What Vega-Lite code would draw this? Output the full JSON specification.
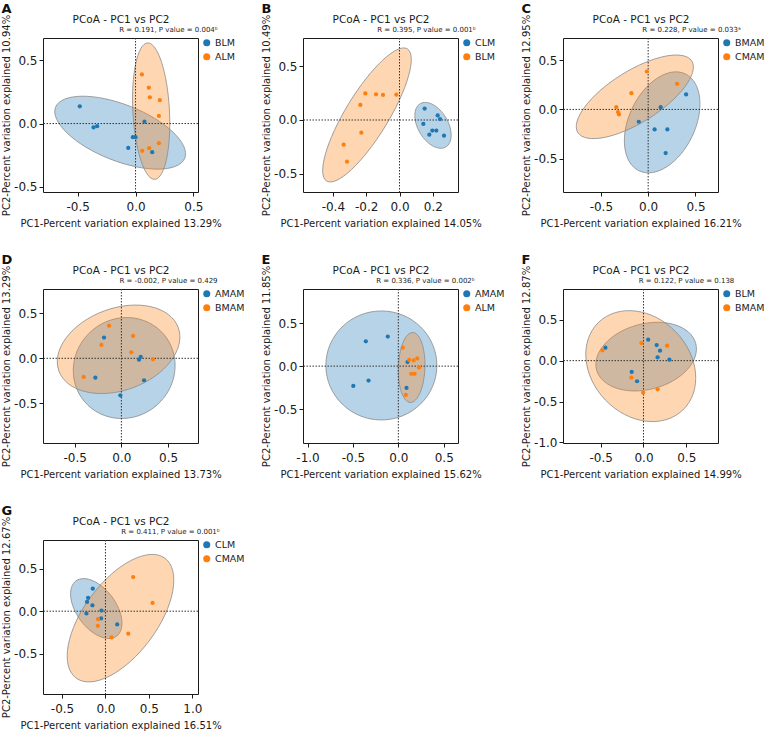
{
"$schema": "https://vega.github.io/schema/vega-lite/v6.json",
"padding": {"left": 1, "top": 2, "right": 0, "bottom": 0},
"background": "white",
"datasets": {
"points": [
{"panel":"A","group":"BLM","pc1":-0.482,"pc2":0.136},{"panel":"A","group":"BLM","pc1":-0.363,"pc2":-0.031},{"panel":"A","group":"BLM","pc1":-0.332,"pc2":-0.021},{"panel":"A","group":"BLM","pc1":-0.063,"pc2":-0.192},{"panel":"A","group":"BLM","pc1":-0.023,"pc2":-0.108},{"panel":"A","group":"BLM","pc1":0.0,"pc2":-0.108},{"panel":"A","group":"BLM","pc1":0.077,"pc2":0.015},{"panel":"A","group":"BLM","pc1":0.144,"pc2":-0.226},
{"panel":"A","group":"ALM","pc1":0.055,"pc2":0.388},{"panel":"A","group":"ALM","pc1":0.115,"pc2":0.283},{"panel":"A","group":"ALM","pc1":0.124,"pc2":0.207},{"panel":"A","group":"ALM","pc1":0.21,"pc2":0.184},{"panel":"A","group":"ALM","pc1":0.202,"pc2":0.06},{"panel":"A","group":"ALM","pc1":0.202,"pc2":-0.155},{"panel":"A","group":"ALM","pc1":0.118,"pc2":-0.194},{"panel":"A","group":"ALM","pc1":0.058,"pc2":-0.215},
{"panel":"B","group":"CLM","pc1":0.151,"pc2":0.106},{"panel":"B","group":"CLM","pc1":0.229,"pc2":0.043},{"panel":"B","group":"CLM","pc1":0.243,"pc2":0.009},{"panel":"B","group":"CLM","pc1":0.143,"pc2":-0.037},{"panel":"B","group":"CLM","pc1":0.197,"pc2":-0.099},{"panel":"B","group":"CLM","pc1":0.221,"pc2":-0.099},{"panel":"B","group":"CLM","pc1":0.179,"pc2":-0.137},{"panel":"B","group":"CLM","pc1":0.267,"pc2":-0.146},
{"panel":"B","group":"BLM","pc1":-0.205,"pc2":0.248},{"panel":"B","group":"BLM","pc1":-0.141,"pc2":0.239},{"panel":"B","group":"BLM","pc1":-0.099,"pc2":0.233},{"panel":"B","group":"BLM","pc1":-0.019,"pc2":0.236},{"panel":"B","group":"BLM","pc1":-0.235,"pc2":0.14},{"panel":"B","group":"BLM","pc1":-0.229,"pc2":-0.118},{"panel":"B","group":"BLM","pc1":-0.335,"pc2":-0.23},{"panel":"B","group":"BLM","pc1":-0.315,"pc2":-0.388},
{"panel":"C","group":"BMAM","pc1":0.401,"pc2":0.152},{"panel":"C","group":"BMAM","pc1":0.132,"pc2":0.023},{"panel":"C","group":"BMAM","pc1":-0.099,"pc2":-0.125},{"panel":"C","group":"BMAM","pc1":0.068,"pc2":-0.203},{"panel":"C","group":"BMAM","pc1":0.203,"pc2":-0.203},{"panel":"C","group":"BMAM","pc1":0.185,"pc2":-0.443},
{"panel":"C","group":"CMAM","pc1":-0.014,"pc2":0.385},{"panel":"C","group":"CMAM","pc1":0.305,"pc2":0.26},{"panel":"C","group":"CMAM","pc1":-0.177,"pc2":0.165},{"panel":"C","group":"CMAM","pc1":-0.337,"pc2":0.023},{"panel":"C","group":"CMAM","pc1":-0.319,"pc2":-0.027},{"panel":"C","group":"CMAM","pc1":-0.308,"pc2":-0.051},
{"panel":"D","group":"AMAM","pc1":-0.186,"pc2":0.23},{"panel":"D","group":"AMAM","pc1":0.207,"pc2":0.015},{"panel":"D","group":"AMAM","pc1":0.189,"pc2":-0.015},{"panel":"D","group":"AMAM","pc1":-0.279,"pc2":-0.215},{"panel":"D","group":"AMAM","pc1":0.243,"pc2":-0.244},{"panel":"D","group":"AMAM","pc1":-0.011,"pc2":-0.411},
{"panel":"D","group":"BMAM","pc1":-0.132,"pc2":0.363},{"panel":"D","group":"BMAM","pc1":0.125,"pc2":0.248},{"panel":"D","group":"BMAM","pc1":-0.214,"pc2":0.148},{"panel":"D","group":"BMAM","pc1":0.107,"pc2":0.067},{"panel":"D","group":"BMAM","pc1":0.339,"pc2":-0.011},{"panel":"D","group":"BMAM","pc1":-0.404,"pc2":-0.207},
{"panel":"E","group":"AMAM","pc1":-0.116,"pc2":0.344},{"panel":"E","group":"AMAM","pc1":-0.358,"pc2":0.289},{"panel":"E","group":"AMAM","pc1":-0.496,"pc2":-0.23},{"panel":"E","group":"AMAM","pc1":-0.328,"pc2":-0.168},{"panel":"E","group":"AMAM","pc1":0.101,"pc2":0.047},{"panel":"E","group":"AMAM","pc1":0.09,"pc2":-0.254},
{"panel":"E","group":"ALM","pc1":0.049,"pc2":0.215},{"panel":"E","group":"ALM","pc1":0.119,"pc2":0.074},{"panel":"E","group":"ALM","pc1":0.168,"pc2":0.066},{"panel":"E","group":"ALM","pc1":0.209,"pc2":0.09},{"panel":"E","group":"ALM","pc1":0.228,"pc2":-0.016},{"panel":"E","group":"ALM","pc1":0.142,"pc2":-0.09},{"panel":"E","group":"ALM","pc1":0.179,"pc2":-0.09},{"panel":"E","group":"ALM","pc1":0.082,"pc2":-0.336},
{"panel":"F","group":"BLM","pc1":0.055,"pc2":0.256},{"panel":"F","group":"BLM","pc1":-0.445,"pc2":0.159},{"panel":"F","group":"BLM","pc1":0.154,"pc2":0.191},{"panel":"F","group":"BLM","pc1":0.193,"pc2":0.122},{"panel":"F","group":"BLM","pc1":0.165,"pc2":0.041},{"panel":"F","group":"BLM","pc1":0.303,"pc2":0.012},{"panel":"F","group":"BLM","pc1":-0.138,"pc2":-0.138},{"panel":"F","group":"BLM","pc1":-0.075,"pc2":-0.252},
{"panel":"F","group":"BMAM","pc1":-0.48,"pc2":0.126},{"panel":"F","group":"BMAM","pc1":-0.024,"pc2":0.215},{"panel":"F","group":"BMAM","pc1":0.276,"pc2":0.183},{"panel":"F","group":"BMAM","pc1":-0.142,"pc2":-0.207},{"panel":"F","group":"BMAM","pc1":-0.004,"pc2":-0.39},{"panel":"F","group":"BMAM","pc1":0.165,"pc2":-0.35},
{"panel":"G","group":"CLM","pc1":-0.146,"pc2":0.266},{"panel":"G","group":"CLM","pc1":-0.2,"pc2":0.156},{"panel":"G","group":"CLM","pc1":-0.212,"pc2":0.109},{"panel":"G","group":"CLM","pc1":-0.15,"pc2":0.07},{"panel":"G","group":"CLM","pc1":-0.046,"pc2":0.008},{"panel":"G","group":"CLM","pc1":-0.219,"pc2":-0.027},{"panel":"G","group":"CLM","pc1":-0.05,"pc2":-0.086},{"panel":"G","group":"CLM","pc1":0.135,"pc2":-0.156},
{"panel":"G","group":"CMAM","pc1":0.319,"pc2":0.402},{"panel":"G","group":"CMAM","pc1":0.542,"pc2":0.098},{"panel":"G","group":"CMAM","pc1":-0.085,"pc2":-0.094},{"panel":"G","group":"CMAM","pc1":-0.088,"pc2":-0.172},{"panel":"G","group":"CMAM","pc1":0.262,"pc2":-0.266},{"panel":"G","group":"CMAM","pc1":0.069,"pc2":-0.309}
],
"ellipses": [
{"panel":"A","group":"BLM","cx":-0.133,"cy":-0.072},{"panel":"A","group":"ALM","cx":0.135,"cy":0.098},
{"panel":"B","group":"CLM","cx":0.201,"cy":-0.05},{"panel":"B","group":"BLM","cx":-0.195,"cy":0.047},
{"panel":"C","group":"BMAM","cx":0.148,"cy":-0.131},{"panel":"C","group":"CMAM","cx":-0.141,"cy":0.128},
{"panel":"D","group":"AMAM","cx":0.03,"cy":-0.108},{"panel":"D","group":"BMAM","cx":-0.03,"cy":0.1},
{"panel":"E","group":"AMAM","cx":-0.187,"cy":0.008},{"panel":"E","group":"ALM","cx":0.146,"cy":-0.016},
{"panel":"F","group":"BLM","cx":0.031,"cy":0.049},{"panel":"F","group":"BMAM","cx":-0.032,"cy":-0.067},
{"panel":"G","group":"CLM","cx":-0.106,"cy":0.031},{"panel":"G","group":"CMAM","cx":0.173,"cy":-0.082}
]
},
"columns": 3,
"spacing": {"column": 15, "row": 24},
"resolve": {"scale": {"x": "independent", "y": "independent", "color": "independent", "fill": "independent", "shape": "independent"}, "axis": {"x": "independent", "y": "independent"}, "legend": {"color": "independent", "fill": "independent", "shape": "independent"}},
"concat": [
{"width": 155, "height": 154, "title": {"text": "A"},
 "layer": [
  {"data": {"name": "ellipses"}, "transform": [{"filter": "datum.panel === 'A'"}],
   "mark": {"type": "point", "filled": true, "size": 4, "opacity": 1, "fillOpacity": 0.32, "stroke": "#8a8a8a", "strokeWidth": 0.8},
   "encoding": {
    "x": {"field": "cx", "type": "quantitative", "scale": {"domain": [-0.8, 0.54], "nice": false, "zero": false}, "axis": {"orient": "bottom", "values": [-0.5, 0, 0.5], "labelExpr": "replace(format(datum.value, '.1f'), '−', '-')", "labelPadding": 5, "titlePadding": 6, "title": "PC1-Percent variation explained 13.29%"}},
    "y": {"field": "cy", "type": "quantitative", "scale": {"domain": [-0.54, 0.675], "nice": false, "zero": false}, "axis": {"orient": "left", "values": [-0.5, 0, 0.5], "labelExpr": "replace(format(datum.value, '.1f'), '−', '-')", "titlePadding": 2, "title": "PC2-Percent variation explained 10.94%"}},
    "fill": {"field": "group", "type": "nominal", "scale": {"domain": ["ALM", "BLM"], "range": ["#ff7f0e", "#1f77b4"]}, "legend": null},
    "shape": {"field": "group", "type": "nominal", "scale": {"domain": ["ALM", "BLM"], "range": ["M -3.57 -68.21 A 68.3 18.3 87 0 1 3.57 68.21 A 68.3 18.3 87 0 1 -3.57 -68.21 Z", "M -64.66 -25.47 A 69.5 28.5 21.5 0 1 64.66 25.47 A 69.5 28.5 21.5 0 1 -64.66 -25.47 Z"]}, "legend": null}
   }},
  {"data": {"values": [{}]}, "mark": {"type": "rule", "strokeDash": [1.5, 1.5], "color": "#333333", "strokeWidth": 1},
   "encoding": {"x": {"datum": 0, "type": "quantitative", "scale": {"domain": [-0.8, 0.54], "nice": false, "zero": false}, "axis": {"orient": "top", "labels": false, "ticks": false, "domain": false, "title": "R = 0.191, P value = 0.004ᵇ", "titleFontSize": 7, "titlePadding": 6, "titleX": 125, "titleAlign": "center"}}}},
  {"data": {"values": [{}]}, "mark": {"type": "rule", "strokeDash": [1.5, 1.5], "color": "#333333", "strokeWidth": 1},
   "encoding": {"y": {"datum": 0, "type": "quantitative", "scale": {"domain": [-0.54, 0.675], "nice": false, "zero": false}, "axis": null}}},
  {"data": {"name": "points"}, "transform": [{"filter": "datum.panel === 'A'"}],
   "mark": {"type": "circle", "size": 18, "opacity": 1},
   "encoding": {
    "x": {"field": "pc1", "type": "quantitative", "scale": {"domain": [-0.8, 0.54], "nice": false, "zero": false}, "axis": {"orient": "top", "labels": false, "ticks": false, "domain": false, "title": "PCoA - PC1 vs PC2", "titleFontSize": 10.5, "titlePadding": 14}},
    "y": {"field": "pc2", "type": "quantitative", "scale": {"domain": [-0.54, 0.675], "nice": false, "zero": false}, "axis": null},
    "color": {"field": "group", "type": "nominal", "scale": {"domain": ["BLM", "ALM"], "range": ["#1f77b4", "#ff7f0e"]}, "legend": {"title": null}}
   }}
 ],
 "resolve": {"axis": {"x": "independent", "y": "independent"}}
},
{"width": 155, "height": 154, "title": {"text": "B"},
 "layer": [
  {"data": {"name": "ellipses"}, "transform": [{"filter": "datum.panel === 'B'"}],
   "mark": {"type": "point", "filled": true, "size": 4, "opacity": 1, "fillOpacity": 0.32, "stroke": "#8a8a8a", "strokeWidth": 0.8},
   "encoding": {
    "x": {"field": "cx", "type": "quantitative", "scale": {"domain": [-0.579, 0.351], "nice": false, "zero": false}, "axis": {"orient": "bottom", "values": [-0.4, -0.2, 0, 0.2], "labelExpr": "replace(format(datum.value, '.1f'), '−', '-')", "labelPadding": 5, "titlePadding": 6, "title": "PC1-Percent variation explained 14.05%"}},
    "y": {"field": "cy", "type": "quantitative", "scale": {"domain": [-0.671, 0.764], "nice": false, "zero": false}, "axis": {"orient": "left", "values": [-0.5, 0, 0.5], "labelExpr": "replace(format(datum.value, '.1f'), '−', '-')", "titlePadding": 2, "title": "PC2-Percent variation explained 10.49%"}},
    "fill": {"field": "group", "type": "nominal", "scale": {"domain": ["BLM", "CLM"], "range": ["#ff7f0e", "#1f77b4"]}, "legend": null},
    "shape": {"field": "group", "type": "nominal", "scale": {"domain": ["BLM", "CLM"], "range": ["M -40.33 66.07 A 77.4 21.5 -58.6 0 1 40.33 -66.07 A 77.4 21.5 -58.6 0 1 -40.33 66.07 Z", "M -12.86 -21.67 A 25.2 15.2 59.3 0 1 12.86 21.67 A 25.2 15.2 59.3 0 1 -12.86 -21.67 Z"]}, "legend": null}
   }},
  {"data": {"values": [{}]}, "mark": {"type": "rule", "strokeDash": [1.5, 1.5], "color": "#333333", "strokeWidth": 1},
   "encoding": {"x": {"datum": 0, "type": "quantitative", "scale": {"domain": [-0.579, 0.351], "nice": false, "zero": false}, "axis": {"orient": "top", "labels": false, "ticks": false, "domain": false, "title": "R = 0.395, P value = 0.001ᵇ", "titleFontSize": 7, "titlePadding": 6, "titleX": 123, "titleAlign": "center"}}}},
  {"data": {"values": [{}]}, "mark": {"type": "rule", "strokeDash": [1.5, 1.5], "color": "#333333", "strokeWidth": 1},
   "encoding": {"y": {"datum": 0, "type": "quantitative", "scale": {"domain": [-0.671, 0.764], "nice": false, "zero": false}, "axis": null}}},
  {"data": {"name": "points"}, "transform": [{"filter": "datum.panel === 'B'"}],
   "mark": {"type": "circle", "size": 18, "opacity": 1},
   "encoding": {
    "x": {"field": "pc1", "type": "quantitative", "scale": {"domain": [-0.579, 0.351], "nice": false, "zero": false}, "axis": {"orient": "top", "labels": false, "ticks": false, "domain": false, "title": "PCoA - PC1 vs PC2", "titleFontSize": 10.5, "titlePadding": 14}},
    "y": {"field": "pc2", "type": "quantitative", "scale": {"domain": [-0.671, 0.764], "nice": false, "zero": false}, "axis": null},
    "color": {"field": "group", "type": "nominal", "scale": {"domain": ["CLM", "BLM"], "range": ["#1f77b4", "#ff7f0e"]}, "legend": {"title": null}}
   }}
 ],
 "resolve": {"axis": {"x": "independent", "y": "independent"}}
},
{"width": 155, "height": 154, "title": {"text": "C"},
 "layer": [
  {"data": {"name": "ellipses"}, "transform": [{"filter": "datum.panel === 'C'"}],
   "mark": {"type": "point", "filled": true, "size": 4, "opacity": 1, "fillOpacity": 0.32, "stroke": "#8a8a8a", "strokeWidth": 0.8},
   "encoding": {
    "x": {"field": "cx", "type": "quantitative", "scale": {"domain": [-0.9, 0.738], "nice": false, "zero": false}, "axis": {"orient": "bottom", "values": [-0.5, 0, 0.5], "labelExpr": "replace(format(datum.value, '.1f'), '−', '-')", "labelPadding": 5, "titlePadding": 6, "title": "PC1-Percent variation explained 16.21%"}},
    "y": {"field": "cy", "type": "quantitative", "scale": {"domain": [-0.838, 0.725], "nice": false, "zero": false}, "axis": {"orient": "left", "values": [-0.5, 0, 0.5], "labelExpr": "replace(format(datum.value, '.1f'), '−', '-')", "titlePadding": 2, "title": "PC2-Percent variation explained 12.95%"}},
    "fill": {"field": "group", "type": "nominal", "scale": {"domain": ["CMAM", "BMAM"], "range": ["#ff7f0e", "#1f77b4"]}, "legend": null},
    "shape": {"field": "group", "type": "nominal", "scale": {"domain": ["CMAM", "BMAM"], "range": ["M -57.01 35.76 A 67.3 26 -32.1 0 1 57.01 -35.76 A 67.3 26 -32.1 0 1 -57.01 35.76 Z", "M -23.2 48.43 A 53.7 33.1 -64.4 0 1 23.2 -48.43 A 53.7 33.1 -64.4 0 1 -23.2 48.43 Z"]}, "legend": null}
   }},
  {"data": {"values": [{}]}, "mark": {"type": "rule", "strokeDash": [1.5, 1.5], "color": "#333333", "strokeWidth": 1},
   "encoding": {"x": {"datum": 0, "type": "quantitative", "scale": {"domain": [-0.9, 0.738], "nice": false, "zero": false}, "axis": {"orient": "top", "labels": false, "ticks": false, "domain": false, "title": "R = 0.228, P value = 0.033ᵃ", "titleFontSize": 7, "titlePadding": 6, "titleX": 128, "titleAlign": "center"}}}},
  {"data": {"values": [{}]}, "mark": {"type": "rule", "strokeDash": [1.5, 1.5], "color": "#333333", "strokeWidth": 1},
   "encoding": {"y": {"datum": 0, "type": "quantitative", "scale": {"domain": [-0.838, 0.725], "nice": false, "zero": false}, "axis": null}}},
  {"data": {"name": "points"}, "transform": [{"filter": "datum.panel === 'C'"}],
   "mark": {"type": "circle", "size": 18, "opacity": 1},
   "encoding": {
    "x": {"field": "pc1", "type": "quantitative", "scale": {"domain": [-0.9, 0.738], "nice": false, "zero": false}, "axis": {"orient": "top", "labels": false, "ticks": false, "domain": false, "title": "PCoA - PC1 vs PC2", "titleFontSize": 10.5, "titlePadding": 14}},
    "y": {"field": "pc2", "type": "quantitative", "scale": {"domain": [-0.838, 0.725], "nice": false, "zero": false}, "axis": null},
    "color": {"field": "group", "type": "nominal", "scale": {"domain": ["BMAM", "CMAM"], "range": ["#1f77b4", "#ff7f0e"]}, "legend": {"title": null}}
   }}
 ],
 "resolve": {"axis": {"x": "independent", "y": "independent"}}
},
{"width": 155, "height": 154, "title": {"text": "D"},
 "layer": [
  {"data": {"name": "ellipses"}, "transform": [{"filter": "datum.panel === 'D'"}],
   "mark": {"type": "point", "filled": true, "size": 4, "opacity": 1, "fillOpacity": 0.32, "stroke": "#8a8a8a", "strokeWidth": 0.8},
   "encoding": {
    "x": {"field": "cx", "type": "quantitative", "scale": {"domain": [-0.84, 0.821], "nice": false, "zero": false}, "axis": {"orient": "bottom", "values": [-0.5, 0, 0.5], "labelExpr": "replace(format(datum.value, '.1f'), '−', '-')", "labelPadding": 5, "titlePadding": 6, "title": "PC1-Percent variation explained 13.73%"}},
    "y": {"field": "cy", "type": "quantitative", "scale": {"domain": [-0.941, 0.77], "nice": false, "zero": false}, "axis": {"orient": "left", "values": [-0.5, 0, 0.5], "labelExpr": "replace(format(datum.value, '.1f'), '−', '-')", "titlePadding": 2, "title": "PC2-Percent variation explained 13.29%"}},
    "fill": {"field": "group", "type": "nominal", "scale": {"domain": ["BMAM", "AMAM"], "range": ["#ff7f0e", "#1f77b4"]}, "legend": null},
    "shape": {"field": "group", "type": "nominal", "scale": {"domain": ["BMAM", "AMAM"], "range": ["M -59.67 21.72 A 63.5 41 -20 0 1 59.67 -21.72 A 63.5 41 -20 0 1 -59.67 21.72 Z", "M -39.83 33.43 A 52 49.5 -40 0 1 39.83 -33.43 A 52 49.5 -40 0 1 -39.83 33.43 Z"]}, "legend": null}
   }},
  {"data": {"values": [{}]}, "mark": {"type": "rule", "strokeDash": [1.5, 1.5], "color": "#333333", "strokeWidth": 1},
   "encoding": {"x": {"datum": 0, "type": "quantitative", "scale": {"domain": [-0.84, 0.821], "nice": false, "zero": false}, "axis": {"orient": "top", "labels": false, "ticks": false, "domain": false, "title": "R = -0.002, P value = 0.429", "titleFontSize": 7, "titlePadding": 6, "titleX": 125, "titleAlign": "center"}}}},
  {"data": {"values": [{}]}, "mark": {"type": "rule", "strokeDash": [1.5, 1.5], "color": "#333333", "strokeWidth": 1},
   "encoding": {"y": {"datum": 0, "type": "quantitative", "scale": {"domain": [-0.941, 0.77], "nice": false, "zero": false}, "axis": null}}},
  {"data": {"name": "points"}, "transform": [{"filter": "datum.panel === 'D'"}],
   "mark": {"type": "circle", "size": 18, "opacity": 1},
   "encoding": {
    "x": {"field": "pc1", "type": "quantitative", "scale": {"domain": [-0.84, 0.821], "nice": false, "zero": false}, "axis": {"orient": "top", "labels": false, "ticks": false, "domain": false, "title": "PCoA - PC1 vs PC2", "titleFontSize": 10.5, "titlePadding": 14}},
    "y": {"field": "pc2", "type": "quantitative", "scale": {"domain": [-0.941, 0.77], "nice": false, "zero": false}, "axis": null},
    "color": {"field": "group", "type": "nominal", "scale": {"domain": ["AMAM", "BMAM"], "range": ["#1f77b4", "#ff7f0e"]}, "legend": {"title": null}}
   }}
 ],
 "resolve": {"axis": {"x": "independent", "y": "independent"}}
},
{"width": 155, "height": 154, "title": {"text": "E"},
 "layer": [
  {"data": {"name": "ellipses"}, "transform": [{"filter": "datum.panel === 'E'"}],
   "mark": {"type": "point", "filled": true, "size": 4, "opacity": 1, "fillOpacity": 0.32, "stroke": "#8a8a8a", "strokeWidth": 0.8},
   "encoding": {
    "x": {"field": "cx", "type": "quantitative", "scale": {"domain": [-1.05, 0.657], "nice": false, "zero": false}, "axis": {"orient": "bottom", "values": [-1, -0.5, 0, 0.5], "labelExpr": "replace(format(datum.value, '.1f'), '−', '-')", "labelPadding": 5, "titlePadding": 6, "title": "PC1-Percent variation explained 15.62%"}},
    "y": {"field": "cy", "type": "quantitative", "scale": {"domain": [-0.895, 0.898], "nice": false, "zero": false}, "axis": {"orient": "left", "values": [-0.5, 0, 0.5], "labelExpr": "replace(format(datum.value, '.1f'), '−', '-')", "titlePadding": 2, "title": "PC2-Percent variation explained 11.85%"}},
    "fill": {"field": "group", "type": "nominal", "scale": {"domain": ["ALM", "AMAM"], "range": ["#ff7f0e", "#1f77b4"]}, "legend": null},
    "shape": {"field": "group", "type": "nominal", "scale": {"domain": ["ALM", "AMAM"], "range": ["M -1.22 34.98 A 35 13.3 -88 0 1 1.22 -34.98 A 35 13.3 -88 0 1 -1.22 34.98 Z", "M -55.5 0 A 55.5 54.5 0 0 1 55.5 0 A 55.5 54.5 0 0 1 -55.5 0 Z"]}, "legend": null}
   }},
  {"data": {"values": [{}]}, "mark": {"type": "rule", "strokeDash": [1.5, 1.5], "color": "#333333", "strokeWidth": 1},
   "encoding": {"x": {"datum": 0, "type": "quantitative", "scale": {"domain": [-1.05, 0.657], "nice": false, "zero": false}, "axis": {"orient": "top", "labels": false, "ticks": false, "domain": false, "title": "R = 0.336, P value = 0.002ᵇ", "titleFontSize": 7, "titlePadding": 6, "titleX": 122, "titleAlign": "center"}}}},
  {"data": {"values": [{}]}, "mark": {"type": "rule", "strokeDash": [1.5, 1.5], "color": "#333333", "strokeWidth": 1},
   "encoding": {"y": {"datum": 0, "type": "quantitative", "scale": {"domain": [-0.895, 0.898], "nice": false, "zero": false}, "axis": null}}},
  {"data": {"name": "points"}, "transform": [{"filter": "datum.panel === 'E'"}],
   "mark": {"type": "circle", "size": 18, "opacity": 1},
   "encoding": {
    "x": {"field": "pc1", "type": "quantitative", "scale": {"domain": [-1.05, 0.657], "nice": false, "zero": false}, "axis": {"orient": "top", "labels": false, "ticks": false, "domain": false, "title": "PCoA - PC1 vs PC2", "titleFontSize": 10.5, "titlePadding": 14}},
    "y": {"field": "pc2", "type": "quantitative", "scale": {"domain": [-0.895, 0.898], "nice": false, "zero": false}, "axis": null},
    "color": {"field": "group", "type": "nominal", "scale": {"domain": ["AMAM", "ALM"], "range": ["#1f77b4", "#ff7f0e"]}, "legend": {"title": null}}
   }}
 ],
 "resolve": {"axis": {"x": "independent", "y": "independent"}}
},
{"width": 155, "height": 154, "title": {"text": "F"},
 "layer": [
  {"data": {"name": "ellipses"}, "transform": [{"filter": "datum.panel === 'F'"}],
   "mark": {"type": "point", "filled": true, "size": 4, "opacity": 1, "fillOpacity": 0.32, "stroke": "#8a8a8a", "strokeWidth": 0.8},
   "encoding": {
    "x": {"field": "cx", "type": "quantitative", "scale": {"domain": [-0.941, 0.871], "nice": false, "zero": false}, "axis": {"orient": "bottom", "values": [-0.5, 0, 0.5], "labelExpr": "replace(format(datum.value, '.1f'), '−', '-')", "labelPadding": 5, "titlePadding": 6, "title": "PC1-Percent variation explained 14.99%"}},
    "y": {"field": "cy", "type": "quantitative", "scale": {"domain": [-1.007, 0.876], "nice": false, "zero": false}, "axis": {"orient": "left", "values": [-1, -0.5, 0, 0.5], "labelExpr": "replace(format(datum.value, '.1f'), '−', '-')", "titlePadding": 2, "title": "PC2-Percent variation explained 12.87%"}},
    "fill": {"field": "group", "type": "nominal", "scale": {"domain": ["BMAM", "BLM"], "range": ["#ff7f0e", "#1f77b4"]}, "legend": null},
    "shape": {"field": "group", "type": "nominal", "scale": {"domain": ["BMAM", "BLM"], "range": ["M -42.08 -43.89 A 60.8 49 46.2 0 1 42.08 43.89 A 60.8 49 46.2 0 1 -42.08 -43.89 Z", "M -49.58 13.19 A 51.3 32.8 -14.9 0 1 49.58 -13.19 A 51.3 32.8 -14.9 0 1 -49.58 13.19 Z"]}, "legend": null}
   }},
  {"data": {"values": [{}]}, "mark": {"type": "rule", "strokeDash": [1.5, 1.5], "color": "#333333", "strokeWidth": 1},
   "encoding": {"x": {"datum": 0, "type": "quantitative", "scale": {"domain": [-0.941, 0.871], "nice": false, "zero": false}, "axis": {"orient": "top", "labels": false, "ticks": false, "domain": false, "title": "R = 0.122, P value = 0.138", "titleFontSize": 7, "titlePadding": 6, "titleX": 123, "titleAlign": "center"}}}},
  {"data": {"values": [{}]}, "mark": {"type": "rule", "strokeDash": [1.5, 1.5], "color": "#333333", "strokeWidth": 1},
   "encoding": {"y": {"datum": 0, "type": "quantitative", "scale": {"domain": [-1.007, 0.876], "nice": false, "zero": false}, "axis": null}}},
  {"data": {"name": "points"}, "transform": [{"filter": "datum.panel === 'F'"}],
   "mark": {"type": "circle", "size": 18, "opacity": 1},
   "encoding": {
    "x": {"field": "pc1", "type": "quantitative", "scale": {"domain": [-0.941, 0.871], "nice": false, "zero": false}, "axis": {"orient": "top", "labels": false, "ticks": false, "domain": false, "title": "PCoA - PC1 vs PC2", "titleFontSize": 10.5, "titlePadding": 14}},
    "y": {"field": "pc2", "type": "quantitative", "scale": {"domain": [-1.007, 0.876], "nice": false, "zero": false}, "axis": null},
    "color": {"field": "group", "type": "nominal", "scale": {"domain": ["BLM", "BMAM"], "range": ["#1f77b4", "#ff7f0e"]}, "legend": {"title": null}}
   }}
 ],
 "resolve": {"axis": {"x": "independent", "y": "independent"}}
},
{"width": 155, "height": 154, "title": {"text": "G"},
 "layer": [
  {"data": {"name": "ellipses"}, "transform": [{"filter": "datum.panel === 'G'"}],
   "mark": {"type": "point", "filled": true, "size": 4, "opacity": 1, "fillOpacity": 0.32, "stroke": "#8a8a8a", "strokeWidth": 0.8},
   "encoding": {
    "x": {"field": "cx", "type": "quantitative", "scale": {"domain": [-0.719, 1.065], "nice": false, "zero": false}, "axis": {"orient": "bottom", "values": [-0.5, 0, 0.5, 1], "labelExpr": "replace(format(datum.value, '.1f'), '−', '-')", "labelPadding": 5, "titlePadding": 6, "title": "PC1-Percent variation explained 16.51%"}},
    "y": {"field": "cy", "type": "quantitative", "scale": {"domain": [-0.977, 0.84], "nice": false, "zero": false}, "axis": {"orient": "left", "values": [-0.5, 0, 0.5], "labelExpr": "replace(format(datum.value, '.1f'), '−', '-')", "titlePadding": 2, "title": "PC2-Percent variation explained 12.67%"}},
    "fill": {"field": "group", "type": "nominal", "scale": {"domain": ["CMAM", "CLM"], "range": ["#ff7f0e", "#1f77b4"]}, "legend": null},
    "shape": {"field": "group", "type": "nominal", "scale": {"domain": ["CMAM", "CLM"], "range": ["M -44.48 59.89 A 74.6 36.6 -53.4 0 1 44.48 -59.89 A 74.6 36.6 -53.4 0 1 -44.48 59.89 Z", "M -20.31 -27.64 A 34.3 19.7 53.7 0 1 20.31 27.64 A 34.3 19.7 53.7 0 1 -20.31 -27.64 Z"]}, "legend": null}
   }},
  {"data": {"values": [{}]}, "mark": {"type": "rule", "strokeDash": [1.5, 1.5], "color": "#333333", "strokeWidth": 1},
   "encoding": {"x": {"datum": 0, "type": "quantitative", "scale": {"domain": [-0.719, 1.065], "nice": false, "zero": false}, "axis": {"orient": "top", "labels": false, "ticks": false, "domain": false, "title": "R = 0.411, P value = 0.001ᵇ", "titleFontSize": 7, "titlePadding": 6, "titleX": 127, "titleAlign": "center"}}}},
  {"data": {"values": [{}]}, "mark": {"type": "rule", "strokeDash": [1.5, 1.5], "color": "#333333", "strokeWidth": 1},
   "encoding": {"y": {"datum": 0, "type": "quantitative", "scale": {"domain": [-0.977, 0.84], "nice": false, "zero": false}, "axis": null}}},
  {"data": {"name": "points"}, "transform": [{"filter": "datum.panel === 'G'"}],
   "mark": {"type": "circle", "size": 18, "opacity": 1},
   "encoding": {
    "x": {"field": "pc1", "type": "quantitative", "scale": {"domain": [-0.719, 1.065], "nice": false, "zero": false}, "axis": {"orient": "top", "labels": false, "ticks": false, "domain": false, "title": "PCoA - PC1 vs PC2", "titleFontSize": 10.5, "titlePadding": 14}},
    "y": {"field": "pc2", "type": "quantitative", "scale": {"domain": [-0.977, 0.84], "nice": false, "zero": false}, "axis": null},
    "color": {"field": "group", "type": "nominal", "scale": {"domain": ["CLM", "CMAM"], "range": ["#1f77b4", "#ff7f0e"]}, "legend": {"title": null}}
   }}
 ],
 "resolve": {"axis": {"x": "independent", "y": "independent"}}
}
],
"config": {
 "font": "DejaVu Sans",
 "view": {"stroke": "#1a1a1a", "strokeWidth": 1},
 "axis": {"grid": false, "domain": false, "tickColor": "#1a1a1a", "tickSize": 4, "labelFontSize": 12, "labelColor": "#1a1a1a", "labelPadding": 2, "titleFontSize": 10, "titleFontWeight": "normal", "titleColor": "#1a1a1a", "labelFont": "DejaVu Sans", "titleFont": "DejaVu Sans", "titlePadding": 4},
 "legend": {"orient": "right", "offset": 4, "labelFontSize": 9.5, "labelColor": "#1a1a1a", "labelFont": "DejaVu Sans", "symbolSize": 50, "symbolType": "circle", "rowPadding": 3, "padding": 0, "labelOffset": 3.5},
 "title": {"fontSize": 13, "fontWeight": "bold", "anchor": "start", "frame": "bounds", "offset": -2, "color": "#111111", "font": "DejaVu Sans"}
}
}
